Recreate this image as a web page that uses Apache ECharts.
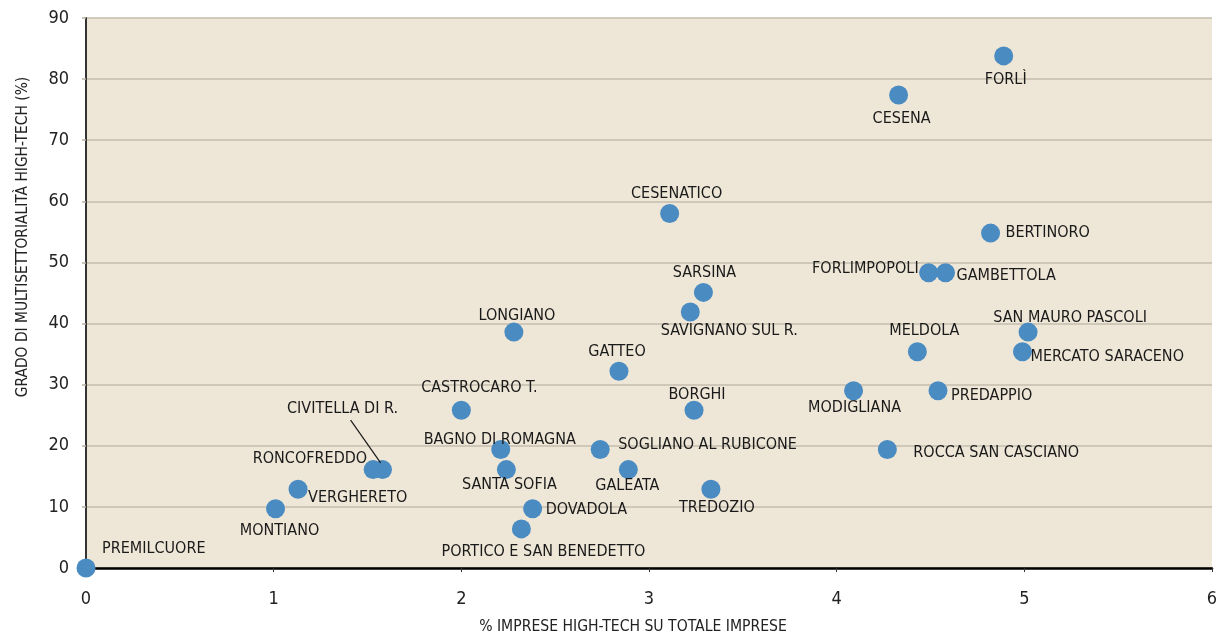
<!DOCTYPE html>
<html>
<head>
<meta charset="utf-8">
<script src="https://cdn.jsdelivr.net/npm/echarts@6/dist/echarts.min.js"></script>
<style>
html,body{margin:0;padding:0;background:#fff;}
#chart{width:1216px;height:638px;}
</style>
</head>
<body>
<div id="chart"></div>
<script>
// ---- data ----
const comuni = ["PREMILCUORE","MONTIANO","VERGHERETO","RONCOFREDDO","CIVITELLA DI R.","CASTROCARO T.","LONGIANO","BAGNO DI ROMAGNA","SANTA SOFIA","DOVADOLA","PORTICO E SAN BENEDETTO","GATTEO","SOGLIANO AL RUBICONE","GALEATA","TREDOZIO","CESENATICO","SARSINA","SAVIGNANO SUL R.","BORGHI","MODIGLIANA","ROCCA SAN CASCIANO","PREDAPPIO","MELDOLA","MERCATO SARACENO","SAN MAURO PASCOLI","FORLIMPOPOLI","GAMBETTOLA","BERTINORO","CESENA","FORLÌ"];
const impreseHT = [0,1.01,1.13,1.53,1.58,2.0,2.28,2.21,2.24,2.38,2.32,2.84,2.74,2.89,3.33,3.11,3.29,3.22,3.24,4.09,4.27,4.54,4.43,4.99,5.02,4.49,4.58,4.82,4.33,4.89];
const multiset = [0,9.7,12.9,16.1,16.1,25.8,38.6,19.4,16.1,9.7,6.4,32.2,19.4,16.1,12.9,58.0,45.1,41.9,25.8,29.0,19.4,29.0,35.4,35.4,38.6,48.3,48.3,54.8,77.4,83.8];
const xTicks = [0,1,2,3,4,5,6];
const yTicks = [0,10,20,30,40,50,60,70,80,90];
const xTitle = '% IMPRESE HIGH-TECH SU TOTALE IMPRESE';
const yTitle = 'GRADO DI MULTISETTORIALITÀ HIGH-TECH (%)';
// leader line for CIVITELLA DI R. (data coordinates: label end -> point)
const civitellaLeader = [[1.41, 24.2], [1.57, 17.2]];

// ---- label layout (offsets from point centre, px) ----
const labelLayout = {
  "PREMILCUORE":["left",16,-19],
  "MONTIANO":["center",4,22],
  "VERGHERETO":["left",10,9],
  "RONCOFREDDO":["right",-6,-11],
  "CIVITELLA DI R.":["center",-40,-61],
  "CASTROCARO T.":["center",18,-22],
  "LONGIANO":["center",3,-16],
  "BAGNO DI ROMAGNA":["center",-1,-10],
  "SANTA SOFIA":["center",3,15],
  "DOVADOLA":["left",13,1],
  "PORTICO E SAN BENEDETTO":["center",22,23],
  "GATTEO":["center",-2,-19],
  "SOGLIANO AL RUBICONE":["left",18,-5],
  "GALEATA":["center",-1,16],
  "TREDOZIO":["center",6,19],
  "CESENATICO":["center",7,-20],
  "SARSINA":["center",1,-20],
  "SAVIGNANO SUL R.":["center",39,19],
  "BORGHI":["center",3,-15],
  "MODIGLIANA":["center",1,17],
  "ROCCA SAN CASCIANO":["left",26,3],
  "PREDAPPIO":["left",13,5],
  "MELDOLA":["center",7,-21],
  "MERCATO SARACENO":["left",8,5],
  "SAN MAURO PASCOLI":["center",42,-14],
  "FORLIMPOPOLI":["right",-10,-4],
  "GAMBETTOLA":["left",11,3],
  "BERTINORO":["left",15,0],
  "CESENA":["center",3,24],
  "FORLÌ":["center",2,24]
};

const FONT = "'Liberation Sans Narrow','DejaVu Sans Condensed','Roboto Condensed',sans-serif";

const points = comuni.map((name,i)=>{
  const lay = labelLayout[name];
  return {
    name: name,
    value: [impreseHT[i], multiset[i]],
    label: {
      show: true,
      formatter: name,
      position: 'inside',
      align: lay[0],
      verticalAlign: 'middle',
      offset: [lay[1], lay[2]]
    }
  };
});

const chart = echarts.init(document.getElementById('chart'));
chart.setOption({
  animation: false,
  backgroundColor: '#ffffff',
  grid: {left: 86, right: 4, top: 18, bottom: 70, show: true, backgroundColor: '#EEE7D7', borderWidth: 0, outerBoundsMode: 'none', containLabel: false},
  xAxis: {
    type: 'value', min: xTicks[0], max: xTicks[xTicks.length-1], interval: 1,
    axisLine: {show: true, onZero: false, lineStyle: {color: '#000', width: 2.5}},
    axisTick: {show: true, inside: false, length: 4, lineStyle: {color: '#333', width: 1}},
    axisLabel: {fontFamily: FONT, fontSize: 18, color: '#222', margin: 22},
    splitLine: {show: false}
  },
  yAxis: {
    type: 'value', min: yTicks[0], max: yTicks[yTicks.length-1], interval: 10,
    axisLine: {show: true, onZero: false, lineStyle: {color: '#333', width: 2}},
    axisTick: {show: true, length: 4, lineStyle: {color: '#bbb3a3', width: 1.5}},
    axisLabel: {fontFamily: FONT, fontSize: 18, color: '#222', margin: 17},
    splitLine: {show: true, lineStyle: {color: '#c4bcac', width: 1.5}}
  },
  graphic: [
    {type: 'text', x: 633, y: 627, z: 10,
     style: {text: xTitle, fontFamily: FONT, fontSize: 15.6, fill: '#222', align: 'center', verticalAlign: 'middle'}},
    {type: 'text', x: 23, y: 237, rotation: Math.PI/2, z: 10,
     style: {text: yTitle, fontFamily: FONT, fontSize: 15.4, fill: '#222', align: 'center', verticalAlign: 'middle'}}
  ],
  series: [{
    type: 'scatter',
    symbolSize: 19,
    itemStyle: {color: '#4A8BC2', opacity: 1},
    label: {fontFamily: FONT, fontSize: 16, color: '#1a1a1a'},
    data: points,
    z: 3,
    markLine: {
      silent: true, symbol: 'none', animation: false,
      lineStyle: {color: '#1a1a1a', width: 1.2, type: 'solid'},
      label: {show: false},
      data: [[{coord: civitellaLeader[0]}, {coord: civitellaLeader[1]}]]
    }
  }]
});
</script>
</body>
</html>
